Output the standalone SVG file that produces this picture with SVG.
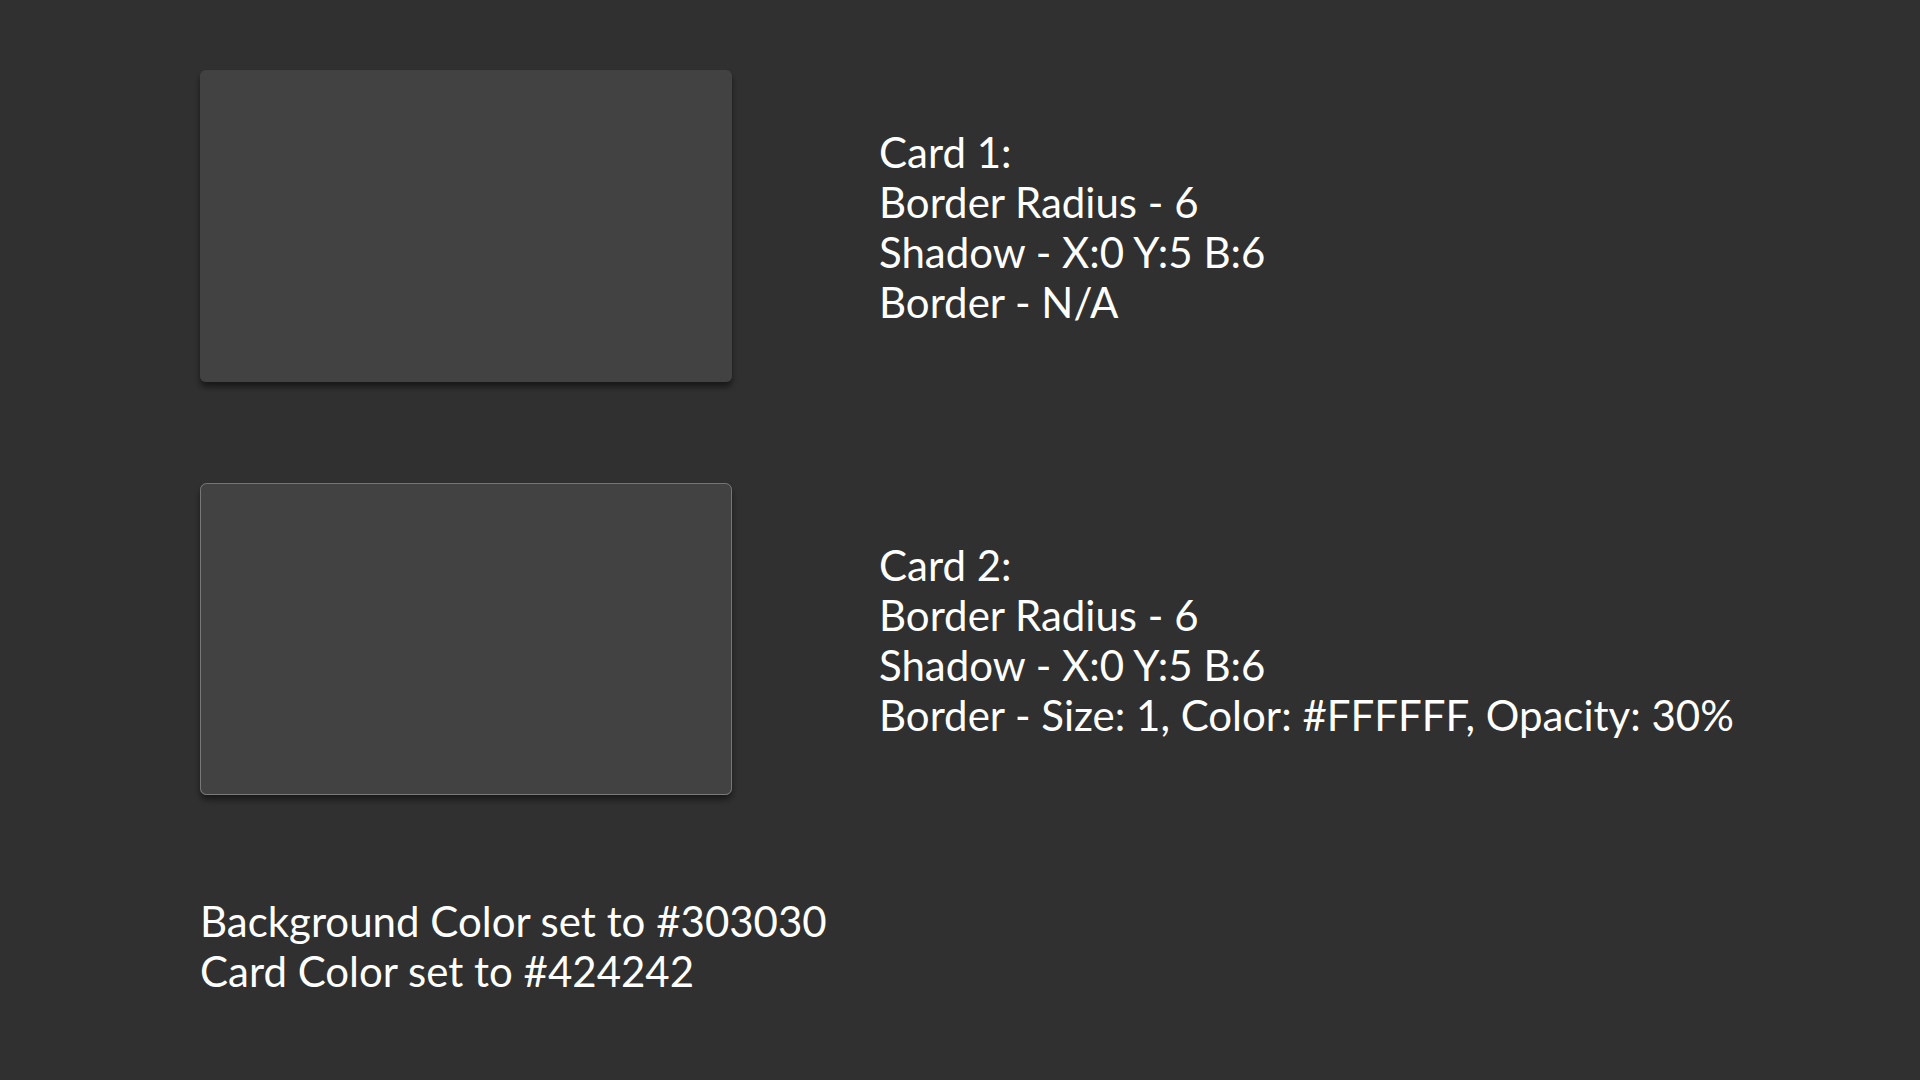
<svg xmlns="http://www.w3.org/2000/svg" width="1920" height="1080" viewBox="0 0 1920 1080">
<defs>
<filter id="sh" x="-10%" y="-10%" width="120%" height="130%">
<feDropShadow dx="0" dy="5" stdDeviation="3" flood-color="#000" flood-opacity="0.5"/>
</filter>
</defs>
<style>
.card{fill:#424242;filter:url(#sh)}
.t{font-family:Lato,"Liberation Sans",sans-serif;font-size:42px;fill:#ffffff}
</style>
<rect width="1920" height="1080" fill="#303030"/>
<g id="card1">
<rect class="card" x="200" y="70" width="532" height="312" rx="6"/>
</g>
<g id="card2">
<rect class="card" x="200.5" y="483.5" width="531" height="311" rx="6" stroke="#ffffff" stroke-opacity="0.3" stroke-width="1"/>
</g>
<g id="connectors"/>
<g id="card1-text">
<text class="t" x="879" y="168">Card 1:</text>
<text class="t" x="879" y="218">Border Radius - 6</text>
<text class="t" x="879" y="268">Shadow - X:0 Y:5 B:6</text>
<text class="t" x="879" y="318">Border - N/A</text>
</g>
<g id="card2-text">
<text class="t" x="879" y="581">Card 2:</text>
<text class="t" x="879" y="631">Border Radius - 6</text>
<text class="t" x="879" y="681">Shadow - X:0 Y:5 B:6</text>
<text class="t" x="879" y="731">Border - Size: 1, Color: #FFFFFF, Opacity: 30%</text>
</g>
<g id="notes">
<text class="t" x="200" y="937">Background Color set to #303030</text>
<text class="t" x="200" y="987">Card Color set to #424242</text>
</g>
</svg>
